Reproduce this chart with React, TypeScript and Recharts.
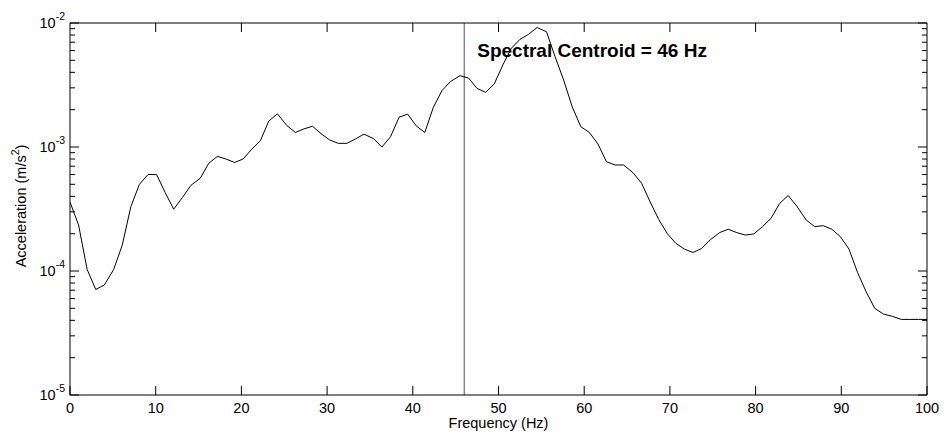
import { LineChart, Line, XAxis, YAxis, ReferenceLine, Label } from "recharts";

// frequency bins (Hz)
const freqs = [
  0, 1.0, 2.0, 3.0, 4.0, 5.1, 6.1, 7.1, 8.1, 9.1, 10.1, 11.1, 12.1, 13.1, 14.1, 15.2, 16.2, 17.2, 18.2, 19.2,
  20.2, 21.2, 22.2, 23.2, 24.2, 25.3, 26.3, 27.3, 28.3, 29.3, 30.3, 31.3, 32.3, 33.3, 34.3, 35.4, 36.4, 37.4, 38.4, 39.4,
  40.4, 41.4, 42.4, 43.4, 44.4, 45.5, 46.5, 47.5, 48.5, 49.5, 50.5, 51.5, 52.5, 53.5, 54.5, 55.6, 56.6, 57.6, 58.6, 59.6,
  60.6, 61.6, 62.6, 63.6, 64.6, 65.7, 66.7, 67.7, 68.7, 69.7, 70.7, 71.7, 72.7, 73.7, 74.7, 75.8, 76.8, 77.8, 78.8, 79.8,
  80.8, 81.8, 82.8, 83.8, 84.8, 85.9, 86.9, 87.9, 88.9, 89.9, 90.9, 91.9, 92.9, 93.9, 94.9, 96.0, 97.0, 98.0, 99.0, 100,
];

// acceleration spectrum (m/s^2)
const accel = [
  3.6e-4, 2.35e-4, 1.03e-4, 7.1e-5, 7.7e-5, 1.03e-4, 1.62e-4, 3.3e-4, 5.0e-4, 6.0e-4,
  6.0e-4, 4.3e-4, 3.15e-4, 3.9e-4, 4.9e-4, 5.6e-4, 7.4e-4, 8.4e-4, 8.0e-4, 7.5e-4,
  8.0e-4, 9.6e-4, 1.12e-3, 1.62e-3, 1.85e-3, 1.49e-3, 1.31e-3, 1.4e-3, 1.47e-3, 1.28e-3,
  1.14e-3, 1.07e-3, 1.07e-3, 1.16e-3, 1.27e-3, 1.17e-3, 1.0e-3, 1.21e-3, 1.74e-3, 1.84e-3,
  1.48e-3, 1.31e-3, 2.09e-3, 2.85e-3, 3.37e-3, 3.76e-3, 3.6e-3, 2.97e-3, 2.76e-3, 3.22e-3,
  4.58e-3, 6.25e-3, 7.38e-3, 8.1e-3, 9.2e-3, 8.5e-3, 5.35e-3, 3.47e-3, 2.11e-3, 1.46e-3,
  1.31e-3, 1.06e-3, 7.6e-4, 7.16e-4, 7.16e-4, 6.2e-4, 5.1e-4, 3.6e-4, 2.6e-4, 2.0e-4,
  1.67e-4, 1.5e-4, 1.41e-4, 1.52e-4, 1.78e-4, 2.04e-4, 2.17e-4, 2.04e-4, 1.95e-4, 1.99e-4,
  2.28e-4, 2.66e-4, 3.5e-4, 4.06e-4, 3.34e-4, 2.58e-4, 2.28e-4, 2.32e-4, 2.17e-4, 1.89e-4,
  1.5e-4, 9.7e-5, 6.8e-5, 5.0e-5, 4.5e-5, 4.3e-5, 4.07e-5, 4.07e-5, 4.07e-5, 4.07e-5,
];

const xTicks = [0, 10, 20, 30, 40, 50, 60, 70, 80, 90, 100];
const yMajor = [1e-5, 1e-4, 1e-3, 1e-2];
const yTicks = [
  1e-5, 2e-5, 3e-5, 4e-5, 5e-5, 6e-5, 7e-5, 8e-5, 9e-5,
  1e-4, 2e-4, 3e-4, 4e-4, 5e-4, 6e-4, 7e-4, 8e-4, 9e-4,
  1e-3, 2e-3, 3e-3, 4e-3, 5e-3, 6e-3, 7e-3, 8e-3, 9e-3, 1e-2,
];
const centroid = 46;

const data = freqs.map((f, i) => ({ f, a: accel[i] }));

const FONT = "'Liberation Sans', Arial, sans-serif";

const isMajor = (v: number) => yMajor.some((m) => Math.abs(m - v) / m < 1e-6);

function LeftTick(props: any) {
  const { x, y, payload } = props;
  const major = isMajor(payload.value);
  const exp = Math.round(Math.log10(payload.value));
  return (
    <g>
      <line x1={x} x2={x + (major ? 9 : 5)} y1={y} y2={y} stroke="#000" />
      {major && (
        <text x={x - 5} y={y + 5} textAnchor="end" fontSize={14.5} fontFamily={FONT} fill="#000">
          10<tspan dy={-8} fontSize={10.5}>{exp}</tspan>
        </text>
      )}
    </g>
  );
}

function RightTick(props: any) {
  const { x, y, payload } = props;
  const major = isMajor(payload.value);
  return <line x1={x} x2={x - (major ? 9 : 5)} y1={y} y2={y} stroke="#000" />;
}

function BottomTick(props: any) {
  const { x, y, payload } = props;
  return (
    <g>
      <line x1={x} x2={x} y1={y} y2={y - 9} stroke="#000" />
      <text x={x} y={y + 18} textAnchor="middle" fontSize={14.5} fontFamily={FONT} fill="#000">
        {payload.value}
      </text>
    </g>
  );
}

function TopTick(props: any) {
  const { x, y } = props;
  return <line x1={x} x2={x} y1={y} y2={y + 9} stroke="#000" />;
}

export default function App() {
  return (
    <div style={{ position: "absolute", left: 0, top: 0, width: 944, height: 440, background: "#fff" }}>
      <LineChart width={944} height={440} data={data} margin={{ top: 0, right: 0, left: 0, bottom: 0 }}>
        <XAxis
          dataKey="f"
          type="number"
          domain={[0, 100]}
          ticks={xTicks}
          interval={0}
          height={45}
          tickSize={0}
          tickMargin={0}
          tick={<BottomTick />}
          axisLine={{ stroke: "#000" }}
          allowDataOverflow
        >
          <Label
            content={(p: any) => {
              const vb = p.viewBox;
              return (
                <text x={vb.x + vb.width / 2} y={vb.y + 33} textAnchor="middle" fontSize={14.5} fontFamily={FONT} fill="#000">
                  Frequency (Hz)
                </text>
              );
            }}
          />
        </XAxis>
        <XAxis
          xAxisId="top"
          orientation="top"
          dataKey="f"
          type="number"
          domain={[0, 100]}
          ticks={xTicks.slice(1, -1)}
          interval={0}
          height={23}
          tickSize={0}
          tickMargin={0}
          tick={<TopTick />}
          axisLine={{ stroke: "#000" }}
          allowDataOverflow
        />
        <YAxis
          type="number"
          scale="log"
          domain={[1e-5, 1e-2]}
          ticks={yTicks}
          interval={0}
          width={70}
          tickSize={0}
          tickMargin={0}
          tick={<LeftTick />}
          axisLine={{ stroke: "#000" }}
          allowDataOverflow
        >
          <Label
            content={(p: any) => {
              const vb = p.viewBox;
              const cy = vb.y + vb.height / 2 - 3;
              return (
                <text
                  transform={`translate(26, ${cy}) rotate(-90)`}
                  textAnchor="middle"
                  fontSize={14.5}
                  fontFamily={FONT}
                  fill="#000"
                >
                  Acceleration (m/s<tspan dy={-7} fontSize={10.5}>2</tspan>
                  <tspan dy={7}>)</tspan>
                </text>
              );
            }}
          />
        </YAxis>
        <YAxis
          yAxisId="right"
          orientation="right"
          type="number"
          scale="log"
          domain={[1e-5, 1e-2]}
          ticks={yTicks}
          interval={0}
          width={17}
          tickSize={0}
          tickMargin={0}
          tick={<RightTick />}
          axisLine={{ stroke: "#000" }}
          allowDataOverflow
        />
        <ReferenceLine
          x={centroid}
          stroke="#555"
          strokeWidth={1}
          label={(p: any) => {
            const vb = p.viewBox;
            return (
              <text x={vb.x + 13} y={vb.y + 34} fontSize={19} fontWeight="bold" fontFamily={FONT} fill="#000">
                Spectral Centroid = {centroid} Hz
              </text>
            );
          }}
        />
        <Line
          dataKey="a"
          type="linear"
          stroke="#000"
          strokeWidth={1}
          dot={false}
          isAnimationActive={false}
        />
      </LineChart>
    </div>
  );
}
